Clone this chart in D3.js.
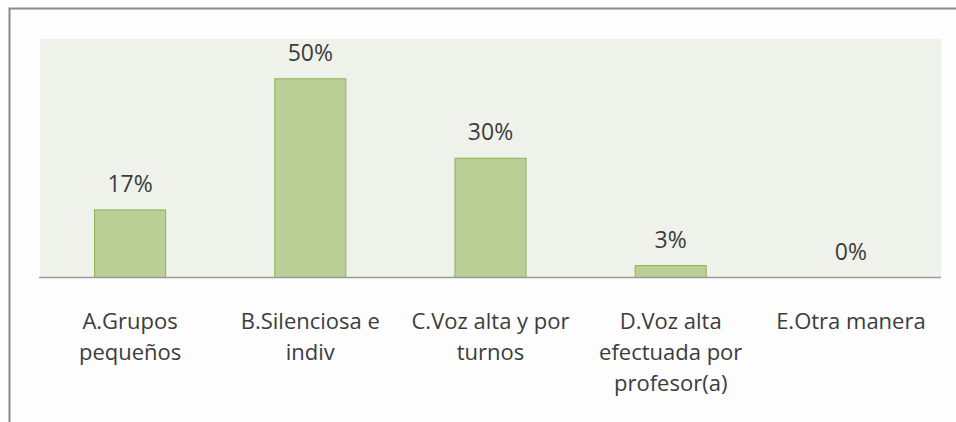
<!DOCTYPE html>
<html><head><meta charset="utf-8">
<script src="https://cdn.jsdelivr.net/npm/d3@7"></script>
<style>html,body{margin:0;padding:0;background:#fff;}svg{display:block;}</style>
</head><body>
<svg id="c" width="956" height="422"></svg>
<script>
const categories = ["A.Grupos\npequeños", "B.Silenciosa e\nindiv", "C.Voz alta y por\nturnos", "D.Voz alta\nefectuada por\nprofesor(a)", "E.Otra manera"];
const values = [17, 50, 30, 3, 0];
const valueLabels = ["17%", "50%", "30%", "3%", "0%"];

const svg = d3.select("#c");
const W = 956, H = 422;
svg.append("rect").attr("x",0).attr("y",0).attr("width",W).attr("height",H).attr("fill","#fdfdfd");
// outer frame
svg.append("rect").attr("x",9.5).attr("y",8.5).attr("width",W+20).attr("height",H+20)
  .attr("fill","#fdfdfd").attr("stroke","#8a8a8a").attr("stroke-width",2);

const plot = {left:40, right:941, top:39, bottom:277.5};
svg.append("rect").attr("x",plot.left).attr("y",plot.top)
  .attr("width",plot.right-plot.left).attr("height",plot.bottom-plot.top).attr("fill","#eff2ea");

const x = d3.scaleBand().domain(categories).range([plot.left, plot.right]).paddingInner(0.6).paddingOuter(0.3);
const y = d3.scaleLinear().domain([0,60]).range([plot.bottom, plot.top]);

const font = "'Open Sans', Lato, sans-serif";
const data = categories.map((c,i)=>({c, v:values[i], l:valueLabels[i]}));

svg.selectAll("rect.bar").data(data.filter(d=>d.v>0)).join("rect").attr("class","bar")
  .attr("x",d=>x(d.c)+0.5).attr("width",x.bandwidth()-1)
  .attr("y",d=>y(d.v)).attr("height",d=>y(0)-y(d.v))
  .attr("fill","#b9cf96").attr("stroke","#8fb25a").attr("stroke-width",1);

svg.selectAll("text.val").data(data).join("text").attr("class","val")
  .attr("x",d=>x(d.c)+x.bandwidth()/2).attr("y",d=>y(d.v)-18)
  .attr("text-anchor","middle").attr("font-family",font).attr("font-size",23)
  .attr("fill","#3c3c3c").text(d=>d.l);

// baseline axis
const axis = d3.axisBottom(x).tickSize(0).tickFormat("");
const gAx = svg.append("g").attr("transform",`translate(0,${plot.bottom})`).call(axis);
gAx.select(".domain").attr("stroke","#9a9a9a").attr("stroke-width",1.3)
  .attr("d",`M${plot.left-1},0H${plot.right}`);

const lab = svg.selectAll("text.cat").data(data).join("text").attr("class","cat")
  .attr("text-anchor","middle").attr("font-family",font).attr("font-size",22).attr("fill","#3c3c3c");
lab.each(function(d){
  const t = d3.select(this);
  d.c.split("\n").forEach((line,i)=>{
    t.append("tspan").attr("x",x(d.c)+x.bandwidth()/2).attr("y",329+i*31).text(line);
  });
});
</script>
</body></html>
